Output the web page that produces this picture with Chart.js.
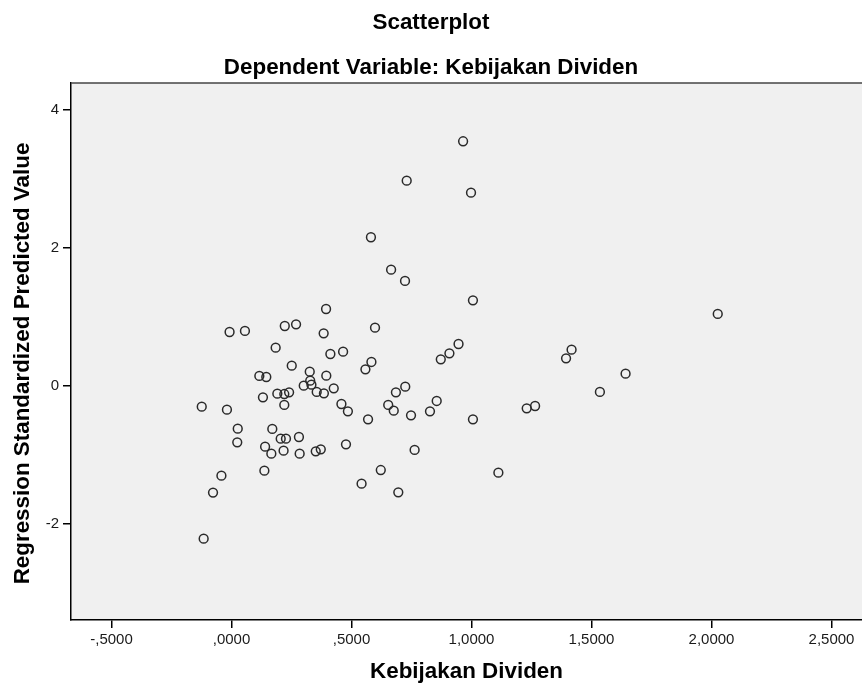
<!DOCTYPE html>
<html>
<head>
<meta charset="utf-8">
<script src="https://cdn.jsdelivr.net/npm/chart.js@4.4.1/dist/chart.umd.min.js"></script>
<style>
  html, body { margin: 0; padding: 0; background: #ffffff; overflow: hidden; }
  canvas { display: block; }
</style>
</head>
<body>
<canvas id="c" width="862" height="686"></canvas>
<script>
// Dependent variable (x) and regression standardized predicted value (y), one entry per case
const kebijakanDividen = [
  0.581, 0.665, 0.723, 1.006, 0.394, -0.008, 0.056, 0.222, 0.269, 0.384,
  0.598, 0.184, 0.412, 0.465, 0.946, 0.908, 0.872, 0.583, 0.558, 0.251,
  0.326, 0.395, 0.116, 0.145, 0.328, 0.301, 0.333, 0.426, 0.724, 0.685,
  0.355, 0.385, 0.131, 0.191, 0.220, 0.240, 0.220, 0.458, 0.485, 0.653,
  0.676, 0.855, 0.827, 0.748, 0.569, 1.006, -0.124, -0.019, 0.026, 0.170,
  0.024, 0.205, 0.227, 0.281, 0.140, 0.166, 0.217, 0.284, 0.351, 0.372,
  0.477, 0.763, 0.137, 0.622, -0.042, 0.542, 0.695, -0.077, -0.116, 0.965,
  0.998, 0.730, 2.026, 1.417, 1.394, 1.642, 1.535, 1.265, 1.230, 1.112
];
const predictedValue = [
  2.154, 1.684, 1.520, 1.239, 1.113, 0.779, 0.794, 0.866, 0.891, 0.760,
  0.842, 0.552, 0.460, 0.494, 0.605, 0.470, 0.383, 0.344, 0.238, 0.290,
  0.203, 0.145, 0.141, 0.126, 0.073, 0.000, 0.015, -0.038, -0.014, -0.096,
  -0.091, -0.111, -0.169, -0.116, -0.121, -0.096, -0.280, -0.266, -0.372, -0.280,
  -0.363, -0.222, -0.372, -0.430, -0.488, -0.488, -0.304, -0.348, -0.624, -0.628,
  -0.822, -0.769, -0.769, -0.745, -0.885, -0.987, -0.943, -0.987, -0.953, -0.924,
  -0.851, -0.933, -1.233, -1.224, -1.306, -1.422, -1.548, -1.552, -2.220, 3.547,
  2.801, 2.975, 1.041, 0.523, 0.397, 0.174, -0.091, -0.295, -0.329, -1.262
];

// Axis ticks and their printed labels (comma decimals)
const xTickValues = [-0.5, 0, 0.5, 1, 1.5, 2, 2.5];
const xTickLabels = ['-,5000', ',0000', ',5000', '1,0000', '1,5000', '2,0000', '2,5000'];
const yTickValues = [-2, 0, 2, 4];
const yTickLabels = ['-2', '0', '2', '4'];

const chartTitle = 'Scatterplot';
const chartSubtitle = 'Dependent Variable: Kebijakan Dividen';
const xAxisTitle = 'Kebijakan Dividen';
const yAxisTitle = 'Regression Standardized Predicted Value';

const points = kebijakanDividen.map((x, i) => ({ x: x, y: predictedValue[i] }));

const FONT = '"Liberation Sans", Arial, Helvetica, sans-serif';
const TITLE_SIZE = 22.4;

// Grey plot background, top frame line and the vertical axis title
const plotFrame = {
  id: 'plotFrame',
  beforeDraw(chart) {
    const a = chart.chartArea;
    const ctx = chart.ctx;
    ctx.save();
    ctx.fillStyle = '#f0f0f0';
    ctx.fillRect(a.left, a.top, a.right - a.left, a.bottom - a.top);
    ctx.restore();
  },
  afterDraw(chart) {
    const a = chart.chartArea;
    const ctx = chart.ctx;
    ctx.save();
    ctx.strokeStyle = '#444444';
    ctx.lineWidth = 1.5;
    ctx.beginPath();
    ctx.moveTo(a.left, a.top);
    ctx.lineTo(a.right, a.top);
    ctx.stroke();
    ctx.restore();

    // y-axis title, set a little below the plot's vertical middle
    ctx.save();
    ctx.translate(23, (a.top + a.bottom) / 2 + 12);
    ctx.rotate(-Math.PI / 2);
    ctx.fillStyle = '#000';
    ctx.font = 'bold ' + TITLE_SIZE + 'px ' + FONT;
    ctx.textAlign = 'center';
    ctx.textBaseline = 'middle';
    ctx.fillText(yAxisTitle, 0, 0);
    ctx.restore();
  }
};

function labelFor(values, labels) {
  return (v) => {
    const i = values.findIndex(t => Math.abs(t - v) < 1e-9);
    return i >= 0 ? labels[i] : '';
  };
}

new Chart(document.getElementById('c'), {
  type: 'scatter',
  data: {
    datasets: [{
      data: points,
      pointStyle: 'circle',
      pointRadius: 4.4,
      pointHoverRadius: 4.4,
      pointBorderWidth: 1.5,
      pointBorderColor: '#2a2a2a',
      pointBackgroundColor: 'rgba(0,0,0,0)'
    }]
  },
  options: {
    responsive: false,
    animation: false,
    events: [],
    layout: { padding: 0, autoPadding: false },
    plugins: {
      legend: { display: false },
      tooltip: { enabled: false },
      title: {
        display: true,
        text: chartTitle,
        color: '#000',
        font: { family: FONT, size: TITLE_SIZE, weight: 'bold', lineHeight: 1.2 },
        padding: { top: 9.5, bottom: 18.2 }
      },
      subtitle: {
        display: true,
        text: chartSubtitle,
        color: '#000',
        font: { family: FONT, size: TITLE_SIZE, weight: 'bold', lineHeight: 1.2 },
        padding: { top: 0, bottom: 1.5 }
      }
    },
    scales: {
      x: {
        type: 'linear',
        position: 'bottom',
        min: -0.66875,
        max: 2.62708,
        afterFit(scale) {
          scale.height = 66;
          scale.paddingLeft = 0;
          scale.paddingRight = 0;
        },
        afterBuildTicks(scale) { scale.ticks = xTickValues.map(v => ({ value: v })); },
        ticks: {
          includeBounds: false,
          autoSkip: false,
          maxRotation: 0,
          padding: 3,
          color: '#1a1a1a',
          font: { family: FONT, size: 15 },
          callback: labelFor(xTickValues, xTickLabels)
        },
        grid: { drawOnChartArea: false, drawTicks: true, tickLength: 8, color: '#000', lineWidth: 1.5 },
        border: { display: true, color: '#000', width: 1.5 },
        title: {
          display: true,
          text: xAxisTitle,
          color: '#000',
          font: { family: FONT, size: TITLE_SIZE, weight: 'bold', lineHeight: 1.2 },
          padding: { top: 0, bottom: 1 }
        }
      },
      y: {
        type: 'linear',
        position: 'left',
        min: -3.4006,
        max: 4.3933,
        afterFit(scale) {
          scale.width = 71;
          scale.paddingTop = 0;
          scale.paddingBottom = 0;
        },
        afterBuildTicks(scale) { scale.ticks = yTickValues.map(v => ({ value: v })); },
        ticks: {
          includeBounds: false,
          autoSkip: false,
          padding: 4,
          color: '#1a1a1a',
          font: { family: FONT, size: 15 },
          callback: labelFor(yTickValues, yTickLabels)
        },
        grid: { drawOnChartArea: false, drawTicks: true, tickLength: 8, color: '#000', lineWidth: 1.5 },
        border: { display: true, color: '#000', width: 1.5 },
        title: { display: false }
      }
    }
  },
  plugins: [plotFrame]
});
</script>
</body>
</html>
